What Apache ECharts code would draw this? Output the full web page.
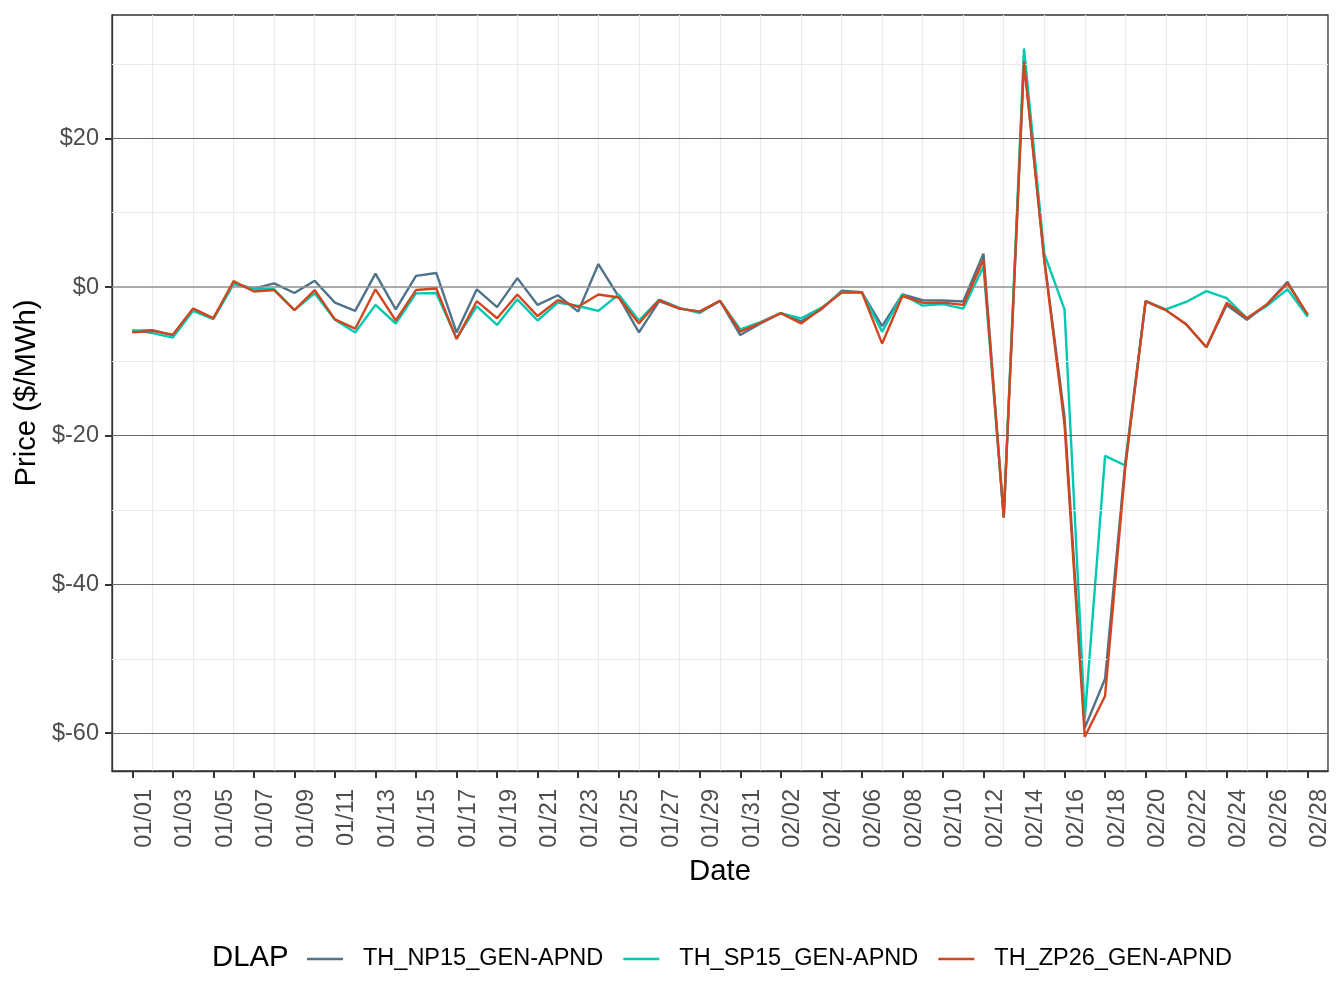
<!DOCTYPE html>
<html>
<head>
<meta charset="utf-8">
<script src="https://cdn.jsdelivr.net/npm/echarts@6/dist/echarts.min.js"></script>
<style>
html,body{margin:0;padding:0;background:#fff;}
#chart{width:1344px;height:1008px;}
</style>
</head>
<body>
<div id="chart"></div>
<script>
var dates = ['01/01','01/02','01/03','01/04','01/05','01/06','01/07','01/08','01/09','01/10',
 '01/11','01/12','01/13','01/14','01/15','01/16','01/17','01/18','01/19','01/20',
 '01/21','01/22','01/23','01/24','01/25','01/26','01/27','01/28','01/29','01/30','01/31',
 '02/01','02/02','02/03','02/04','02/05','02/06','02/07','02/08','02/09','02/10',
 '02/11','02/12','02/13','02/14','02/15','02/16','02/17','02/18','02/19','02/20',
 '02/21','02/22','02/23','02/24','02/25','02/26','02/27','02/28'];
var padStart = '12/31';
var padEnd = '03/01';

var np15 = [-5.9,-5.8,-6.5,-2.9,-4.2,0.5,-0.2,0.5,-0.8,0.85,
 -2.1,-3.2,1.8,-3.0,1.5,1.9,-6.1,-0.3,-2.7,1.2,
 -2.4,-1.1,-3.3,3.1,-1.3,-6.1,-1.9,-2.9,-3.3,-1.85,-6.45,
 -4.9,-3.5,-4.6,-3.0,-0.5,-0.7,-5.25,-1.0,-1.75,-1.8,
 -1.95,4.5,-31.0,30.5,3.8,-17.5,-59.3,-52.7,-23.5,-1.9,
 -3.1,-5.0,-8.1,-2.4,-4.4,-2.3,0.7,-3.8];
var sp15 = [-5.8,-6.2,-6.8,-3.2,-4.3,0.4,-0.3,-0.3,-3.1,-0.85,
 -4.4,-6.1,-2.4,-4.9,-0.85,-0.8,-6.9,-2.6,-5.1,-1.65,
 -4.5,-2.1,-2.55,-3.2,-1.0,-4.5,-1.7,-2.8,-3.5,-1.85,-5.7,
 -4.7,-3.5,-4.2,-2.8,-0.7,-0.7,-6.0,-1.0,-2.5,-2.3,
 -2.9,2.75,-31.0,32.1,4.5,-3.0,-58.0,-22.7,-24.0,-1.9,
 -3.0,-2.0,-0.55,-1.5,-4.2,-2.5,-0.3,-4.0];
var zp26 = [-6.1,-5.9,-6.4,-2.9,-4.2,0.8,-0.6,-0.4,-3.1,-0.4,
 -4.35,-5.6,-0.3,-4.5,-0.4,-0.2,-7.0,-1.9,-4.2,-1.0,
 -3.9,-1.75,-2.65,-1.0,-1.4,-4.9,-1.75,-2.9,-3.3,-1.85,-6.0,
 -4.8,-3.5,-4.9,-2.9,-0.75,-0.7,-7.6,-1.2,-2.1,-2.1,
 -2.4,3.7,-31.0,30.3,3.6,-18.5,-60.5,-55.0,-24.2,-1.9,
 -3.1,-5.0,-8.1,-2.1,-4.2,-2.3,0.5,-3.7];

var seriesNames = ['TH_NP15_GEN-APND','TH_SP15_GEN-APND','TH_ZP26_GEN-APND'];
var seriesColors = ['#4F7389','#00C9B1','#D2451E'];
var yTicks = [-60,-40,-20,0,20];
var yMajor = [-60,-40,-20,20];
var yZero = [0];
var yMinor = [-50,-30,-10,10,30];
var yMin = -65.1, yMax = 36.6;

var FONT = 'Liberation Sans, Arial, Helvetica, sans-serif';
var categories = [padStart].concat(dates).concat([padEnd]);
function pad(arr){ return [null].concat(arr).concat([null]); }

var gridLines = [];
yMinor.forEach(function(v){ gridLines.push({yAxis:v, lineStyle:{color:'#ebebeb', width:1.2, type:'solid'}}); });
yMajor.forEach(function(v){ gridLines.push({yAxis:v, lineStyle:{color:'#666666', width:1.2, type:'solid'}}); });
yZero.forEach(function(v){ gridLines.push({yAxis:v, lineStyle:{color:'#8f8f8f', width:1.6, type:'solid'}}); });

var dataSets = [np15, sp15, zp26];
var series = [{
  name:'gridlines', type:'line', data: categories.map(function(){return null;}),
  z:1, silent:true, showSymbol:false,
  markLine:{silent:true, symbol:['none','none'], label:{show:false}, animation:false, data:gridLines}
}];
dataSets.forEach(function(d,i){
  series.push({
    name: seriesNames[i], type:'line', data: pad(d), showSymbol:false, symbol:'none',
    lineStyle:{width:2.4, color:seriesColors[i]}, itemStyle:{color:seriesColors[i]},
    z: 3+i, connectNulls:false
  });
});

function isLabelIdx(idx){ return idx>=1 && idx<=dates.length && (idx-1)%2===0; }

var chart = echarts.init(document.getElementById('chart'), null, {renderer:'canvas'});
chart.setOption({
  animation:false,
  backgroundColor:'#ffffff',
  grid:{left:112, right:16, top:15, bottom:237, show:true, borderColor:'#333333', borderWidth:1.3, backgroundColor:'#ffffff', containLabel:false},
  xAxis:{
    type:'category', data:categories, boundaryGap:false,
    name:'Date', nameLocation:'middle', nameGap:86,
    nameTextStyle:{fontSize:29.3, color:'#000', fontFamily:FONT},
    axisLine:{show:true, onZero:false, lineStyle:{color:'#333', width:1.3}},
    axisTick:{show:true, length:7, lineStyle:{color:'#333', width:2}, interval:function(i){return isLabelIdx(i);}},
    axisLabel:{show:true, rotate:90, interval:function(i){return isLabelIdx(i);}, fontSize:23.5, color:'#4d4d4d', fontFamily:FONT, margin:18, verticalAlign:'top'},
    splitLine:{show:true, interval:function(i){return i>=1 && i<=dates.length && (i-1)%2===1;}, lineStyle:{color:'#ebebeb', width:1.2}}
  },
  yAxis:{
    type:'value', min:yMin, max:yMax,
    name:'Price ($/MWh)', nameLocation:'middle', nameGap:68, nameRotate:90,
    nameTextStyle:{fontSize:29.3, color:'#000', fontFamily:FONT},
    axisLine:{show:true, onZero:false, lineStyle:{color:'#333', width:1.3}},
    axisTick:{show:true, length:7, lineStyle:{color:'#333', width:2}, customValues:yTicks},
    axisLabel:{show:true, customValues:yTicks, fontSize:23.5, color:'#4d4d4d', fontFamily:FONT, margin:13,
      formatter:function(v){ return '$' + Math.round(v); }},
    splitLine:{show:false}
  },
  legend:{
    data:seriesNames, left:302, top:942, icon:'rect', itemWidth:36, itemHeight:2.6, itemGap:20,
    textStyle:{fontSize:23.5, color:'#000', fontFamily:FONT, padding:[0,0,0,15]},
    selectedMode:false
  },
  graphic:[{type:'text', left:212, top:943, style:{text:'DLAP', fontSize:29.3, fill:'#000', fontFamily:FONT}}],
  series:series
});
</script>
</body>
</html>
